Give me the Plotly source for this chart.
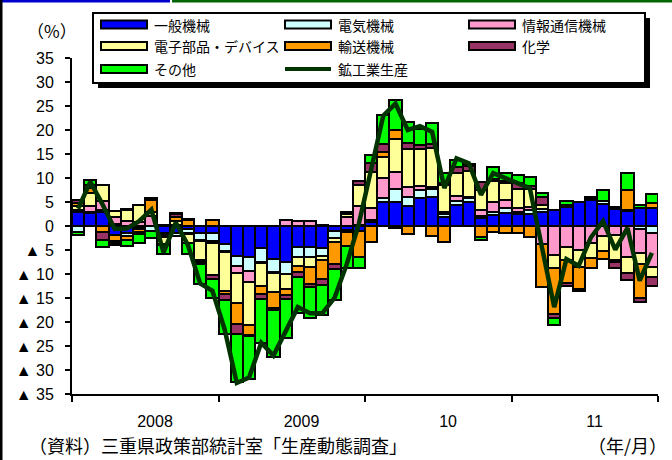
import plotly.graph_objects as go

# ---------------- data ----------------
months = list(range(1, 49))  # 2008/1 .. 2011/12
series_names = ["一般機械", "電気機械", "情報通信機械", "電子部品・デバイス", "輸送機械", "化学", "その他"]
line_name = "鉱工業生産"
year_labels = ["2008", "2009", "10", "11"]

general_machinery = [3.0, 2.7, 3.0, -1.8, -1.5, -0.4, 0.0, -1.4, -1.5, -0.6, -1.5, -1.5,
                     -3.8, -6.2, -6.4, -4.6, -6.8, -7.4, -4.3, -4.3, -4.6, -1.0, -0.9, -1.0,
                     0.9, 5.0, 5.0, 4.2, 5.9, 6.1, 1.8, 4.4, 5.0, 1.7, 2.2, 2.7,
                     2.6, 2.4, 2.9, 3.4, 4.0, 4.9, 5.5, 4.6, 3.5, 3.1, 3.8, 3.7]
electrical = [-1.2, 0.3, 0.3, 0.4, -0.6, -0.3, -1.0, -0.5, -0.5, -0.8, -1.4, -1.7,
              -1.4, -2.2, -3.0, -2.9, -2.7, -2.7, -2.2, -2.1, -1.6, -1.6, -0.3, 0.3,
              0.3, 0.8, 2.8, 1.9, 1.7, 1.7, 0.8, 0.8, 0.8, 0.3, 0.7, 1.1,
              0.4, 1.0, 0.6, 0.0, 0.3, 0.0, 0.2, 0.6, 0.2, 0.2, -0.6, -1.5]
info_comm = [0.4, 1.2, 2.0, 1.4, 1.1, 0.9, 2.0, -0.3, 0.3, -0.2, -0.3, -0.3,
             -0.3, -1.3, -2.3, -0.2, -0.2, 1.3, 1.0, 1.0, 0.3, 0.0, 1.9, 3.9,
             2.5, 4.3, 3.4, 2.0, 0.7, 0.3, 0.3, 1.0, 0.3, 1.4, 2.1, 1.6,
             0.7, 0.5, -3.7, -6.0, -4.4, -5.0, -3.6, -2.0, -1.8, -6.5, -5.0, -7.0]
electronic = [0.8, 2.6, 3.2, 1.4, 2.2, 3.5, 1.0, -1.5, 0.8, -2.0, -3.9, -6.8,
              -8.0, -6.4, -9.0, -4.8, -4.0, -3.0, -1.8, -2.2, -0.9, -0.7, 0.5, 4.3,
              7.5, 4.2, 7.0, 8.0, 7.8, 8.2, 5.6, 4.9, 5.3, 4.2, 4.4, 3.6,
              4.0, 3.9, 0.8, -2.8, -2.6, -3.5, -3.0, -3.2, -5.2, -3.2, -2.4, -2.1]
transport = [0.5, 1.2, -1.2, -1.3, -0.9, -0.5, 2.4, 0.3, 0.7, 1.2, -0.3, 1.3,
             -0.6, -4.4, -2.0, -1.6, -3.3, -1.3, -1.3, -3.5, -3.9, -4.7, -3.0, -5.4,
             -3.3, 1.2, 1.8, -1.7, 0.0, -2.0, -3.3, 0.0, 0.0, -2.3, -1.2, -1.4,
             -1.5, -2.3, -9.0, -9.6, -4.8, -4.6, -2.1, -1.7, -0.5, 4.3, -6.9, 1.0]
chemical = [0.8, 0.6, -1.8, -0.5, 0.3, -0.4, 0.4, -0.3, 0.6, 0.3, -0.6, -0.7,
            -1.3, -2.0, -0.3, -1.1, -0.6, -0.8, -1.0, -0.7, -1.2, -0.9, 0.6, 0.9,
            2.0, 1.6, -0.4, 1.1, 0.7, 0.7, 0.4, 1.2, 1.2, 1.6, 0.3, 0.3,
            1.2, 0.6, 1.7, -0.8, -0.8, -0.4, 0.0, 0.0, -1.2, -1.6, -1.0, -1.8]
others = [-0.6, 0.9, -1.4, -0.4, -1.1, -2.0, -1.4, -1.8, 0.3, -2.2, -4.0, -3.9,
          -7.2, -10.0, -8.8, -9.1, -9.7, -8.1, -7.6, -6.4, -6.3, -6.6, -4.6, -2.3,
          1.6, 6.0, 6.3, 4.4, 3.5, 4.5, 2.1, 1.5, 0.3, -0.6, 2.5, 1.8,
          1.8, 1.9, 0.9, -1.4, 1.0, 0.0, 0.3, 2.4, 0.3, 3.5, 0.6, 2.0]
production = [3.6, 9.2, 4.5, -0.6, -0.5, 1.0, 3.4, -5.5, 0.7, -4.0, -12.0, -13.5,
              -21.5, -32.7, -31.6, -24.3, -27.0, -22.0, -16.9, -18.2, -18.2, -15.0, -8.0, 0.5,
              11.5, 23.0, 25.5, 20.0, 20.8, 19.6, 7.9, 14.1, 13.1, 6.5, 11.0, 10.0,
              8.9, 7.9, -4.5, -16.9, -6.9, -8.3, -2.4, 1.0, -4.9, -0.4, -11.4, -5.6]

y_tick_values = list(range(-35, 40, 5))
y_tick_text = [("▲ %d" % -v) if v < 0 else str(v) for v in y_tick_values]
year_label_pos = [7.3, 19.3, 31.3, 43.3]
year_bounds = [0.5, 12.5, 24.5, 36.5, 48.5]

colors = ["#0000FF", "#CCFFFF", "#FF99CC", "#FFFF99", "#FF9900", "#993366", "#00FF00"]
line_color = "#003300"
all_series = [general_machinery, electrical, info_comm, electronic, transport, chemical, others]

# ---------------- layout geometry (pixels) ----------------
W, H = 672, 460
L, R, T, B = 72, 14, 58, 66
PW, PH = W - L - R, H - T - B

def px(x):
    return (x - L) / PW

def py(y):
    return (H - B - y) / PH

JP = "Noto Sans CJK JP"
NUM = "Liberation Sans, Arial, Noto Sans CJK JP"

fig = go.Figure()
for name, vals, col in zip(series_names, all_series, colors):
    fig.add_trace(go.Bar(x=months, y=vals, name=name, width=1.0,
                         marker=dict(color=col, line=dict(color="black", width=2)),
                         showlegend=False))
fig.add_trace(go.Scatter(x=months, y=production, name=line_name, mode="lines",
                         line=dict(color=line_color, width=4.5), showlegend=False))

shapes = []
annotations = []

# page frame fragments
shapes.append(dict(type="rect", xref="paper", yref="paper", x0=px(0), x1=px(170), y0=py(0), y1=py(2.5),
                   fillcolor="#0000CC", line=dict(width=0), layer="above"))
shapes.append(dict(type="rect", xref="paper", yref="paper", x0=px(172), x1=px(672), y0=py(0), y1=py(2.5),
                   fillcolor="#006600", line=dict(width=0), layer="above"))
shapes.append(dict(type="rect", xref="paper", yref="paper", x0=px(0), x1=px(2.5), y0=py(0), y1=py(460),
                   fillcolor="black", line=dict(width=0), layer="above"))

# legend box with shadow
shapes.append(dict(type="rect", xref="paper", yref="paper", x0=px(98), x1=px(650), y0=py(18), y1=py(88),
                   fillcolor="black", line=dict(width=0), layer="above"))
shapes.append(dict(type="rect", xref="paper", yref="paper", x0=px(93), x1=px(645), y0=py(13), y1=py(83),
                   fillcolor="white", line=dict(color="black", width=2), layer="above"))

col_sym_x = [101, 285, 469]
col_txt_x = [152, 336, 520]
row_y = [24.5, 46, 69]
legend_items = list(zip(series_names, colors)) + [(line_name, None)]
for i, (name, col) in enumerate(legend_items):
    r, c = divmod(i, 3)
    x0 = col_sym_x[c]
    yc = row_y[r]
    if col is not None:
        shapes.append(dict(type="rect", xref="paper", yref="paper", x0=px(x0), x1=px(x0 + 46),
                           y0=py(yc - 4), y1=py(yc + 4), fillcolor=col,
                           line=dict(color="black", width=2), layer="above"))
    else:
        shapes.append(dict(type="line", xref="paper", yref="paper", x0=px(x0), x1=px(x0 + 46),
                           y0=py(yc), y1=py(yc), line=dict(color=line_color, width=4), layer="above"))
    annotations.append(dict(text=name, xref="paper", yref="paper", x=px(col_txt_x[c]), y=py(yc),
                            xanchor="left", yanchor="middle", showarrow=False,
                            font=dict(family=JP, size=14, color="black")))

annotations.append(dict(text="（%）", xref="paper", yref="paper", x=px(52), y=py(30),
                        xanchor="center", yanchor="middle", showarrow=False,
                        font=dict(family=JP, size=17, color="black")))
annotations.append(dict(text="（資料）三重県政策部統計室「生産動態調査」", xref="paper", yref="paper",
                        x=px(27), y=py(445), xanchor="left", yanchor="middle", showarrow=False,
                        font=dict(family=JP, size=18, color="black")))
annotations.append(dict(text="（年/月）", xref="paper", yref="paper",
                        x=px(669), y=py(445), xanchor="right", yanchor="middle", showarrow=False,
                        font=dict(family=JP, size=18, color="black")))

fig.update_layout(
    width=W, height=H,
    margin=dict(l=L, r=R, t=T, b=B, pad=0),
    barmode="relative", bargap=0,
    plot_bgcolor="white", paper_bgcolor="white",
    showlegend=False,
    shapes=shapes, annotations=annotations,
    xaxis=dict(range=[0.5, 48.5], tickmode="array", tickvals=year_label_pos, ticktext=year_labels,
               ticks="", showline=True, linecolor="black", linewidth=2, showgrid=False, zeroline=False,
               ticklabelstandoff=12,
               tickfont=dict(family=NUM, size=16, color="black"),
               minor=dict(tickmode="array", tickvals=year_bounds, ticks="outside", ticklen=6,
                          tickwidth=2, tickcolor="black", showgrid=False)),
    yaxis=dict(range=[-35, 35], tickmode="array", tickvals=y_tick_values, ticktext=y_tick_text,
               ticks="outside", ticklen=5, tickwidth=2, tickcolor="black",
               showline=True, linecolor="black", linewidth=2, showgrid=False, zeroline=False,
               ticklabelstandoff=8,
               tickfont=dict(family=NUM, size=16, color="black")),
)

fig.write_html("out.html")
